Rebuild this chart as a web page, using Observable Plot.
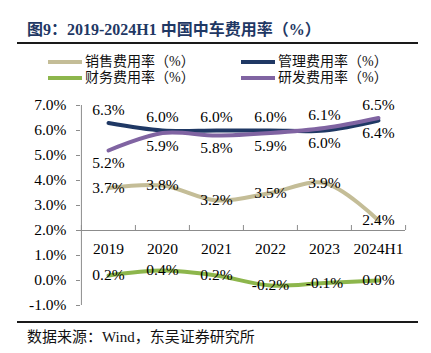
<!DOCTYPE html>
<html>
<head>
<meta charset="utf-8">
<script src="https://cdn.jsdelivr.net/npm/d3@7"></script>
<script src="https://cdn.jsdelivr.net/npm/@observablehq/plot@0.6"></script>
<style>
  html, body { margin: 0; padding: 0; background: #fff; }
  #root { position: relative; width: 431px; height: 353px; overflow: hidden; font-family: "Liberation Serif", "Noto Sans CJK SC", serif; }
  .title { position: absolute; left: 27px; top: 20px; font-size: 16px; font-weight: bold; color: #1F3864; white-space: nowrap; line-height: 20px; }
  .rule { position: absolute; left: 17px; width: 401px; height: 2px; background: #1a1a1a; }
  .leg { position: absolute; font-size: 14px; line-height: 16px; white-space: nowrap; color: #111; }
  .sw { position: absolute; width: 34px; height: 4px; }
  #chart { position: absolute; left: 0; top: 88px; }
  .caption { position: absolute; left: 27px; top: 328px; font-size: 15px; line-height: 18px; color: #111; white-space: nowrap; }
</style>
</head>
<body>
<div id="root">
  <div class="title">图9：2019-2024H1 中国中车费用率（%）</div>
  <div class="rule" style="top:42px"></div>
  <div id="legend"></div>
  <div id="chart"></div>
  <div class="rule" style="top:321px"></div>
  <div class="caption">数据来源：Wind，东吴证券研究所</div>
</div>
<script>
const years = ["2019", "2020", "2021", "2022", "2023", "2024H1"];
const sales = [3.7, 3.8, 3.2, 3.5, 3.9, 2.4];
const admin = [6.3, 6.0, 6.0, 6.0, 6.0, 6.4];
const finance = [0.2, 0.4, 0.2, -0.2, -0.1, 0.0];
const rnd = [5.2, 5.9, 5.8, 5.9, 6.1, 6.5];
const seriesNames = ["销售费用率（%）", "管理费用率（%）", "财务费用率（%）", "研发费用率（%）"];
const seriesColors = ["#C4BD97", "#1F3864", "#8DB64C", "#8064A2"];
const yTicks = [-1, 0, 1, 2, 3, 4, 5, 6, 7];

const seriesValues = [sales, admin, finance, rnd];
const rows = [];
seriesValues.forEach((vals, si) => {
  vals.forEach((v, i) => rows.push({year: years[i], value: v, series: seriesNames[si], si, i}));
});

// label placement: for the two close series, the higher one gets label above
function place(d) {
  if (d.si === 0 || d.si === 2) return "center";
  const other = d.si === 1 ? rnd[d.i] : admin[d.i];
  if (d.value > other) return "above";
  if (d.value < other) return "below";
  return d.si === 1 ? "above" : "below";
}

// legend
const legend = document.getElementById("legend");
const legPos = [[48, 54], [241, 54], [48, 70], [241, 70]];
seriesNames.forEach((name, k) => {
  const [lx, ly] = legPos[k];
  const sw = document.createElement("div");
  sw.className = "sw";
  sw.style.left = lx + "px";
  sw.style.top = (ly + 6) + "px";
  sw.style.background = seriesColors[k];
  legend.appendChild(sw);
  const t = document.createElement("div");
  t.className = "leg";
  t.style.left = (lx + 37) + "px";
  t.style.top = ly + "px";
  t.textContent = name;
  legend.appendChild(t);
});

const W = 431, H = 234, ML = 80, MR = 26, MT = 17, MB = 17;
const step = (W - ML - MR) / years.length;
const fmt = v => v.toFixed(1) + "%";

const chart = Plot.plot({
  width: W,
  height: H,
  marginLeft: ML,
  marginRight: MR,
  marginTop: MT,
  marginBottom: MB,
  style: {fontFamily: "Liberation Serif, serif", fontSize: "15.5px", color: "#000", background: "#fff"},
  x: {type: "point", domain: years, padding: 0.5, axis: null},
  y: {domain: [-1, 7], axis: null},
  color: {domain: seriesNames, range: seriesColors},
  marks: [
    Plot.axisY({ticks: yTicks, tickFormat: fmt, tickSize: 4, tickPadding: 10, stroke: "#8c8c8c", fontSize: 15.5, label: null}),
    Plot.ruleX([years[0]], {x: d => d, y1: -1, y2: 7, dx: -step / 2, stroke: "#8c8c8c", strokeWidth: 1}),
    Plot.ruleY([2], {stroke: "#8c8c8c", strokeWidth: 1}),
    Plot.ruleX(years, {x: d => d, y1: 2, y2: 2.2, dx: -step / 2, stroke: "#8c8c8c"}),
    Plot.ruleX([years[years.length - 1]], {x: d => d, y1: 2, y2: 2.2, dx: step / 2, stroke: "#8c8c8c"}),
    Plot.text(years, {x: d => d, y: 2, dy: 19, text: d => d, fill: "#000"}),
    Plot.line(rows, {x: "year", y: "value", z: "series", stroke: "series", strokeWidth: 4, curve: "catmull-rom"}),
    Plot.text(rows.filter(d => place(d) === "center"), {x: "year", y: "value", text: d => fmt(d.value), fill: "#000"}),
    Plot.text(rows.filter(d => place(d) === "above"), {x: "year", y: "value", dy: -13, text: d => fmt(d.value), fill: "#000"}),
    Plot.text(rows.filter(d => place(d) === "below"), {x: "year", y: "value", dy: 13, text: d => fmt(d.value), fill: "#000"})
  ]
});
document.getElementById("chart").appendChild(chart);
</script>
</body>
</html>
